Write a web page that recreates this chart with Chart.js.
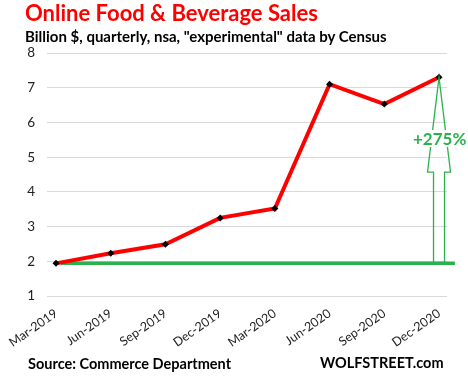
<!DOCTYPE html>
<html>
<head>
<meta charset="utf-8">
<script src="https://cdn.jsdelivr.net/npm/chart.js@4"></script>
<style>
  html, body { margin: 0; padding: 0; background: #fff; }
  #wrap { position: relative; width: 468px; height: 379px; overflow: hidden; font-family: Lato, "Open Sans", sans-serif; }
  #chart { position: absolute; left: 0; top: 0; }
  .txt { position: absolute; white-space: nowrap; font-weight: bold; line-height: 1; }
  #title { left: 25px; top: 2px; font-size: 22px; color: #ff0000; }
  #subtitle { left: 25px; top: 29px; font-size: 15px; color: #000; }
  #source { left: 28px; top: 357px; font-size: 14.5px; color: #000; }
  #brand { left: 320px; top: 356px; font-size: 14.5px; color: #000; }
  #pct { left: 412px; top: 130px; font-size: 17px; color: #2bb24c; background: #fff; padding: 0 1px; }
</style>
</head>
<body>
<div id="wrap">
  <canvas id="chart" width="468" height="379"></canvas>
  <div class="txt" id="title">Online Food &amp; Beverage Sales</div>
  <div class="txt" id="subtitle">Billion $, quarterly, nsa, "experimental" data by Census</div>
  <div class="txt" id="source">Source: Commerce Department</div>
  <div class="txt" id="brand">WOLFSTREET.com</div>
  <div class="txt" id="pct">+275%</div>
</div>
<script>
const quarters = ['Mar-2019','Jun-2019','Sep-2019','Dec-2019','Mar-2020','Jun-2020','Sep-2020','Dec-2020'];
const sales = [1.94, 2.23, 2.49, 3.25, 3.52, 7.10, 6.53, 7.30];
const yTicks = [1, 2, 3, 4, 5, 6, 7, 8];
const baseLevel = sales[0];
const baseSpan = [0.09, 7.29]; // where the flat green base line runs, in quarter index units

const RED = '#ff0000';
const GREEN = '#2bb24c';

// outlined up-arrow from the base line to the last point
const arrowPlugin = {
  id: 'growthArrow',
  afterDatasetsDraw(chart){
    const xs = chart.scales.x, ys = chart.scales.y;
    const last = sales.length - 1;
    const cx = xs.getPixelForValue(last);
    const tipY = ys.getPixelForValue(sales[last]);
    const baseY = ys.getPixelForValue(baseLevel);
    const headY = tipY + (baseY - tipY) * 0.51;
    const headW = 11.5, shaftW = 5.5;
    const ctx = chart.ctx;
    ctx.save();
    ctx.strokeStyle = GREEN;
    ctx.lineWidth = 1.3;
    ctx.beginPath();
    ctx.moveTo(cx - shaftW, baseY);
    ctx.lineTo(cx - shaftW, headY);
    ctx.lineTo(cx - headW, headY);
    ctx.lineTo(cx, tipY);
    ctx.lineTo(cx + headW, headY);
    ctx.lineTo(cx + shaftW, headY);
    ctx.lineTo(cx + shaftW, baseY);
    ctx.stroke();
    ctx.restore();
  }
};

new Chart(document.getElementById('chart'), {
  type: 'line',
  data: {
    datasets: [
      {
        label: 'Base',
        data: baseSpan.map(x => ({x, y: baseLevel})),
        borderColor: GREEN,
        borderWidth: 3.5,
        pointRadius: 0,
        clip: false,
        order: 2
      },
      {
        label: 'Sales',
        data: sales.map((v, i) => ({x: i, y: v})),
        borderColor: RED,
        borderWidth: 4,
        pointStyle: 'rectRot',
        pointRadius: 3.5,
        pointBackgroundColor: '#000',
        pointBorderColor: '#000',
        pointBorderWidth: 0,
        order: 1
      }
    ]
  },
  plugins: [arrowPlugin],
  options: {
    responsive: false,
    animation: false,
    layout: { padding: { top: 53, right: 21, bottom: 23, left: 0 } },
    plugins: { legend: { display: false }, tooltip: { enabled: false } },
    scales: {
      x: {
        type: 'linear',
        min: -0.165,
        max: 7.146,
        afterBuildTicks: s => { s.ticks = quarters.map((_, i) => ({value: i})); },
        afterFit: s => { s.height = 60; },
        grid: { display: false },
        border: { display: false },
        ticks: {
          autoSkip: false,
          minRotation: 35,
          maxRotation: 35,
          padding: 2,
          color: '#222',
          font: { family: 'Lato', size: 12.5 },
          callback: v => quarters[v] ?? ''
        }
      },
      y: {
        min: 1,
        max: 8,
        afterBuildTicks: s => { s.ticks = yTicks.map(v => ({value: v})); },
        afterFit: s => { s.width = 47; },
        grid: { color: '#d9d9d9', lineWidth: 1, drawTicks: false },
        border: { display: false },
        ticks: {
          padding: 12,
          color: '#222',
          font: { family: 'Lato', size: 13.5 }
        }
      }
    }
  }
});
</script>
</body>
</html>
